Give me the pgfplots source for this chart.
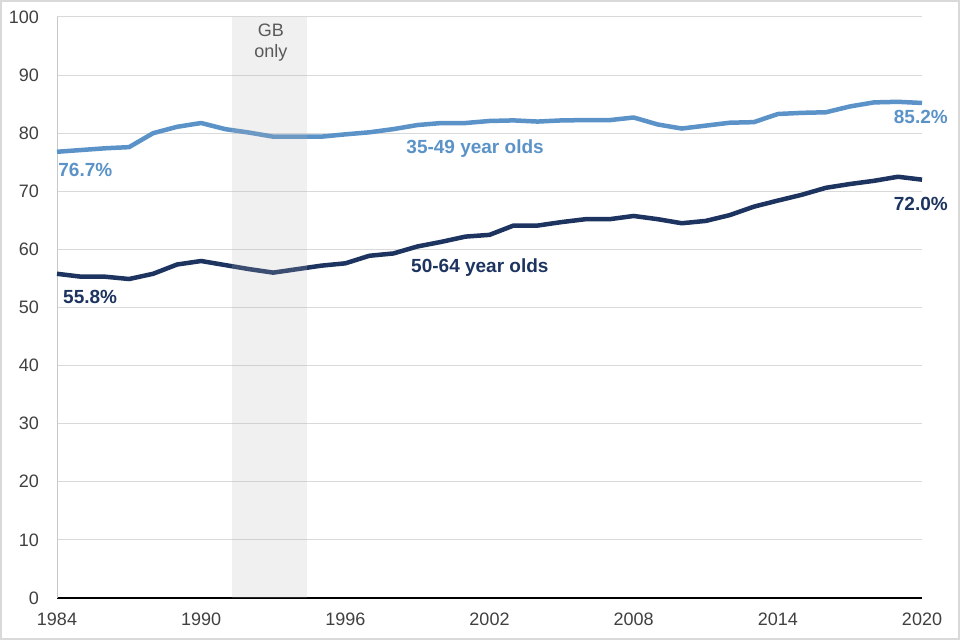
\documentclass[border=0pt]{standalone}
\usepackage{pgfplots}
\pgfplotsset{compat=1.18}
\usepackage{fontspec}
\setmainfont{Liberation Sans}
\definecolor{lblue}{HTML}{5B93C8}
\definecolor{dblue}{HTML}{1D3460}
\definecolor{tickgray}{HTML}{404040}
\definecolor{gridgray}{HTML}{D9D9D9}
\definecolor{bandgray}{HTML}{B4B4B4}
\definecolor{gbtext}{HTML}{595959}
\begin{document}
\begin{tikzpicture}[x=1bp,y=1bp]
\fill[white] (0,0) rectangle (960,640);
\draw[line width=2bp, draw=gridgray] (1,1) rectangle (959,639);
\begin{axis}[
  at={(57bp,42bp)}, anchor=south west,
  scale only axis, width=865bp, height=581bp,
  xmin=1984, xmax=2020, ymin=0, ymax=100,
  xtick={1984,1990,1996,2002,2008,2014,2020},
  ytick={0,10,...,100},
  major tick length=0pt,
  axis x line*=bottom, axis y line*=left,
  x axis line style={-, draw=black, line width=1.2bp},
  y axis line style={-, draw=gridgray!80!gray, line width=1bp},
  ymajorgrids, major grid style={draw=gridgray, line width=1bp},
  font=\fontsize{18bp}{21bp}\selectfont,
  tick label style={text=tickgray, font=\fontsize{18bp}{21bp}\selectfont},
  /pgf/number format/assume math mode=true,
  /pgf/number format/1000 sep={},
  xticklabel style={anchor=north, inner sep=0pt, yshift=-15bp},
  yticklabel style={anchor=east, inner sep=0pt, xshift=-18bp},
  clip=false,
]
\addplot[lblue, line width=4.5bp, line join=round] coordinates {
(1984,76.8) (1985,77.1) (1986,77.4) (1987,77.6) (1988,80.0) (1989,81.1)
(1990,81.75) (1991,80.7) (1992,80.1) (1993,79.4) (1994,79.4) (1995,79.4)
(1996,79.8) (1997,80.15) (1998,80.7) (1999,81.4) (2000,81.75) (2001,81.75)
(2002,82.1) (2003,82.2) (2004,82.0) (2005,82.2) (2006,82.25) (2007,82.25)
(2008,82.7) (2009,81.5) (2010,80.8) (2011,81.3) (2012,81.8) (2013,81.9)
(2014,83.3) (2015,83.5) (2016,83.6) (2017,84.6) (2018,85.3) (2019,85.4)
(2020,85.2)};
\addplot[dblue, line width=4.5bp, line join=round] coordinates {
(1984,55.8) (1985,55.3) (1986,55.3) (1987,54.9) (1988,55.8) (1989,57.4)
(1990,58.0) (1991,57.3) (1992,56.6) (1993,56.0) (1994,56.6) (1995,57.2)
(1996,57.6) (1997,58.9) (1998,59.3) (1999,60.5) (2000,61.3) (2001,62.2)
(2002,62.5) (2003,64.1) (2004,64.1) (2005,64.7) (2006,65.2) (2007,65.2)
(2008,65.75) (2009,65.2) (2010,64.5) (2011,64.9) (2012,65.9) (2013,67.35)
(2014,68.4) (2015,69.4) (2016,70.6) (2017,71.25) (2018,71.8) (2019,72.5)
(2020,72.0)};
\addplot[fill=bandgray, fill opacity=0.2, draw=none] coordinates {
(1991.3,0) (1994.4,0) (1994.4,100) (1991.3,100)} -- cycle;
\node[text=gbtext, align=center, inner sep=0pt] at (axis cs:1992.9,95.6) {GB\\only};
\node[text=lblue, font=\bfseries\fontsize{19bp}{22bp}\selectfont, inner sep=0pt] at (axis cs:2001.4,77.3) {35-49 year olds};
\node[text=dblue, font=\bfseries\fontsize{19bp}{22bp}\selectfont, inner sep=0pt] at (axis cs:2001.6,56.8) {50-64 year olds};
\node[text=lblue, font=\bfseries\fontsize{19bp}{22bp}\selectfont, inner sep=0pt, anchor=west] at (axis cs:1984.05,73.7) {76.7\%};
\node[text=dblue, font=\bfseries\fontsize{19bp}{22bp}\selectfont, inner sep=0pt, anchor=west] at (axis cs:1984.25,51.8) {55.8\%};
\node[text=lblue, font=\bfseries\fontsize{19bp}{22bp}\selectfont, inner sep=0pt, anchor=east] at (axis cs:2021.08,82.8) {85.2\%};
\node[text=dblue, font=\bfseries\fontsize{19bp}{22bp}\selectfont, inner sep=0pt, anchor=east] at (axis cs:2021.08,67.8) {72.0\%};
\end{axis}
\end{tikzpicture}
\end{document}
